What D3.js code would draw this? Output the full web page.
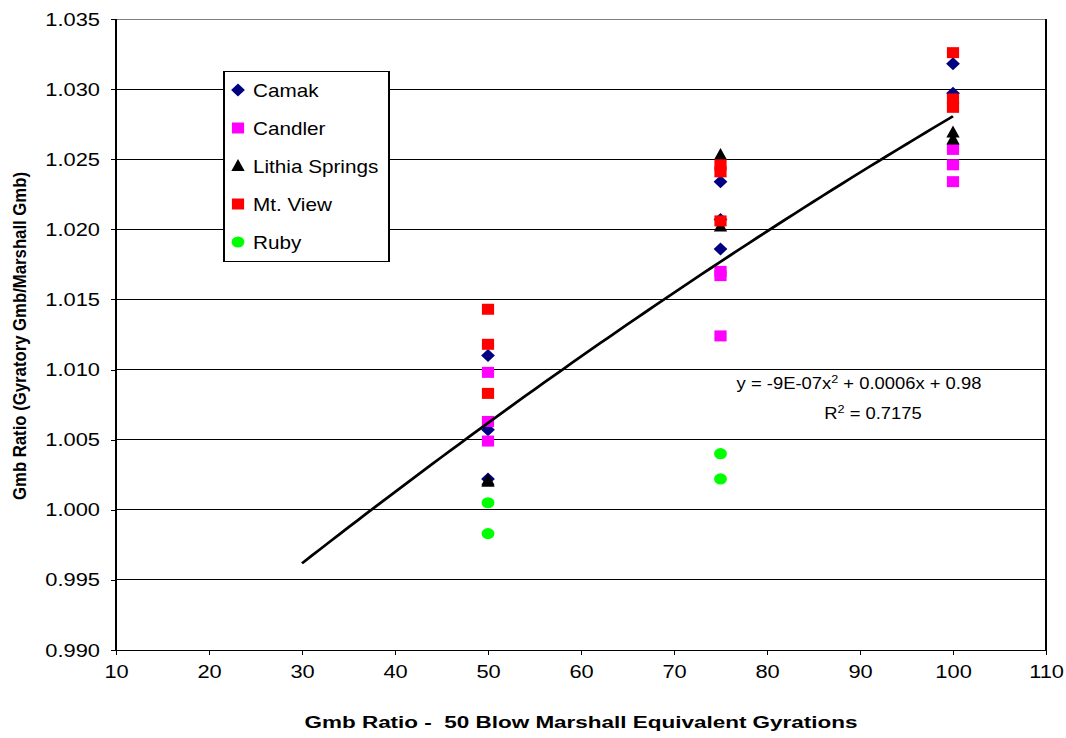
<!DOCTYPE html>
<html lang="en">
<head>
  <meta charset="utf-8"/>
  <title>Gmb Ratio</title>
  <script src="https://d3js.org/d3.v7.min.js"></script>
  <style>
    body { margin: 0; background: #fff; }
    svg text { font-family: "Liberation Sans", Arial, sans-serif; fill: #000; }
  </style>
</head>
<body>
<svg id="chart"></svg>
<script>
  // gyration levels and Gmb ratios
  const xTicks = [10, 20, 30, 40, 50, 60, 70, 80, 90, 100, 110];
  const yTicks = [0.990, 0.995, 1.000, 1.005, 1.010, 1.015, 1.020, 1.025, 1.030, 1.035];

  const camak = [[50, 1.0110], [50, 1.0057], [50, 1.0022],
                 [75, 1.0234], [75, 1.0207], [75, 1.0186],
                 [100, 1.0318], [100, 1.0297]];
  const candler = [[50, 1.0098], [50, 1.0063], [50, 1.0049],
                   [75, 1.0170], [75, 1.0167], [75, 1.0124],
                   [100, 1.0257], [100, 1.0246], [100, 1.0234]];
  const lithia = [[50, 1.0021], [50, 1.0020],
                  [75, 1.0253], [75, 1.0202],
                  [100, 1.0269], [100, 1.0264]];
  const mtView = [[50, 1.0143], [50, 1.0118], [50, 1.0083],
                  [75, 1.0246], [75, 1.0241], [75, 1.0206],
                  [100, 1.0326], [100, 1.0293], [100, 1.0287]];
  const ruby = [[50, 1.0005], [50, 0.9983],
                [75, 1.0040], [75, 1.0022]];

  const seriesNames = ["Camak", "Candler", "Lithia Springs", "Mt. View", "Ruby"];
  const seriesData = [camak, candler, lithia, mtView, ruby];
  const seriesColors = ["#000080", "#ff00ff", "#000000", "#ff0000", "#00ff00"];
  const seriesShapes = ["diamond", "square", "triangle", "square", "circle"];

  // poly trendline (order 2), drawn from 30 to 100
  const trendCoef = [-9e-7, 0.0005725, 0.979815];
  const trendRange = [30, 100];

  // the original picture is stretched sideways, so draw in a narrower box
  const SX = 1.15;
  const W = 1066 / SX, H = 738;
  const svg = d3.select("#chart")
    .attr("width", 1066).attr("height", 738)
    .attr("viewBox", `0 0 ${W} ${H}`)
    .attr("preserveAspectRatio", "none");

  const pLeft = 116 / SX, pRight = 1046 / SX, pTop = 19, pBottom = 650;
  const x = d3.scaleLinear().domain([10, 110]).range([pLeft, pRight]);
  const y = d3.scaleLinear().domain([0.990, 1.035]).range([pBottom, pTop]);

  // grid lines
  svg.append("g").selectAll("line.grid").data(yTicks).enter()
    .append("line").attr("class", "grid")
    .attr("x1", pLeft).attr("x2", pRight)
    .attr("y1", d => y(d)).attr("y2", d => y(d))
    .attr("stroke", d => d == 1.035 ? "#808080" : "#000")
    .attr("stroke-width", 1)
    .attr("shape-rendering", "crispEdges");
  svg.append("line")
    .attr("x1", pRight).attr("x2", pRight).attr("y1", pTop).attr("y2", pBottom)
    .attr("stroke", "#000").attr("shape-rendering", "crispEdges");

  // axes
  const yAxis = d3.axisLeft(y).tickValues(yTicks).tickFormat(d3.format(".3f"))
    .tickSize(5 / SX).tickPadding(11 / SX);
  const xAxis = d3.axisBottom(x).tickValues(xTicks).tickFormat(d3.format("d"))
    .tickSize(5).tickPadding(10);
  const gy = svg.append("g").attr("transform", `translate(${pLeft},0)`).call(yAxis);
  const gx = svg.append("g").attr("transform", `translate(0,${pBottom})`).call(xAxis);
  [gy, gx].forEach(g => {
    g.select(".domain").attr("stroke", "#000").attr("shape-rendering", "crispEdges");
    g.selectAll(".tick line").attr("stroke", "#000").attr("shape-rendering", "crispEdges");
    g.selectAll(".tick text").attr("font-size", 19)
      .attr("font-family", "Liberation Sans, Arial, sans-serif").attr("fill", "#000");
  });
  gy.select(".domain").attr("d", `M0,${pBottom}V${pTop}`);
  gx.select(".domain").attr("d", `M${pLeft},0H${pRight}`);

  // markers
  function shapePath(shape) {
    if (shape == "diamond") return "M0,-6.5L6,0L0,6.5L-6,0Z";
    if (shape == "square") return "M-5.3,-5.5H5.3V5.5H-5.3Z";
    if (shape == "triangle") return "M0,-7L5.8,5L-5.8,5Z";
    return d3.symbol(d3.symbolCircle, Math.PI * 5.6 * 5.6)();
  }

  seriesData.forEach((data, i) => {
    svg.append("g").selectAll("path").data(data).enter()
      .append("path")
      .attr("d", shapePath(seriesShapes[i]))
      .attr("fill", seriesColors[i])
      .attr("transform", d => `translate(${x(d[0])},${y(d[1])})`);
  });

  // trendline
  const trendX = d3.range(trendRange[0], trendRange[1] + 0.5, 1);
  const trend = d3.line()
    .x(d => x(d))
    .y(d => y(trendCoef[0] * d * d + trendCoef[1] * d + trendCoef[2]));
  svg.append("path").datum(trendX)
    .attr("d", trend)
    .attr("fill", "none").attr("stroke", "#000").attr("stroke-width", 2.6);

  // equation label
  const eq1 = svg.append("text").attr("x", 859 / SX).attr("y", 389)
    .attr("text-anchor", "middle").attr("font-size", 16);
  eq1.append("tspan").text("y = -9E-07x");
  eq1.append("tspan").attr("baseline-shift", "super").attr("font-size", 11).text("2");
  eq1.append("tspan").text(" + 0.0006x + 0.98");
  const eq2 = svg.append("text").attr("x", 873 / SX).attr("y", 419)
    .attr("text-anchor", "middle").attr("font-size", 16);
  eq2.append("tspan").text("R");
  eq2.append("tspan").attr("baseline-shift", "super").attr("font-size", 11).text("2");
  eq2.append("tspan").text(" = 0.7175");

  // legend
  const legend = svg.append("g");
  legend.append("rect")
    .attr("x", 224 / SX).attr("y", 71)
    .attr("width", 165 / SX).attr("height", 190)
    .attr("fill", "#fff").attr("stroke", "#000").attr("shape-rendering", "crispEdges");
  const rows = legend.selectAll("g.row").data(seriesNames).enter()
    .append("g").attr("class", "row")
    .attr("transform", (d, i) => `translate(${238 / SX},${90 + i * 38})`);
  rows.append("path")
    .attr("d", (d, i) => shapePath(seriesShapes[i]))
    .attr("fill", (d, i) => seriesColors[i]);
  rows.append("text")
    .attr("x", 15 / SX).attr("y", 6.5)
    .attr("font-size", 18)
    .text(d => d);

  // axis titles
  svg.append("text")
    .attr("transform", `translate(${26 / SX},336) rotate(-90)`)
    .attr("text-anchor", "middle")
    .attr("font-size", 16).attr("font-weight", "bold")
    .attr("textLength", 328).attr("lengthAdjust", "spacingAndGlyphs")
    .text("Gmb Ratio (Gyratory Gmb/Marshall Gmb)");
  svg.append("text")
    .attr("x", 581 / SX).attr("y", 728)
    .attr("text-anchor", "middle")
    .attr("font-size", 17).attr("font-weight", "bold")
    .attr("textLength", 553 / SX).attr("lengthAdjust", "spacingAndGlyphs")
    .attr("xml:space", "preserve")
    .text("Gmb Ratio -  50 Blow Marshall Equivalent Gyrations");
</script>
</body>
</html>
